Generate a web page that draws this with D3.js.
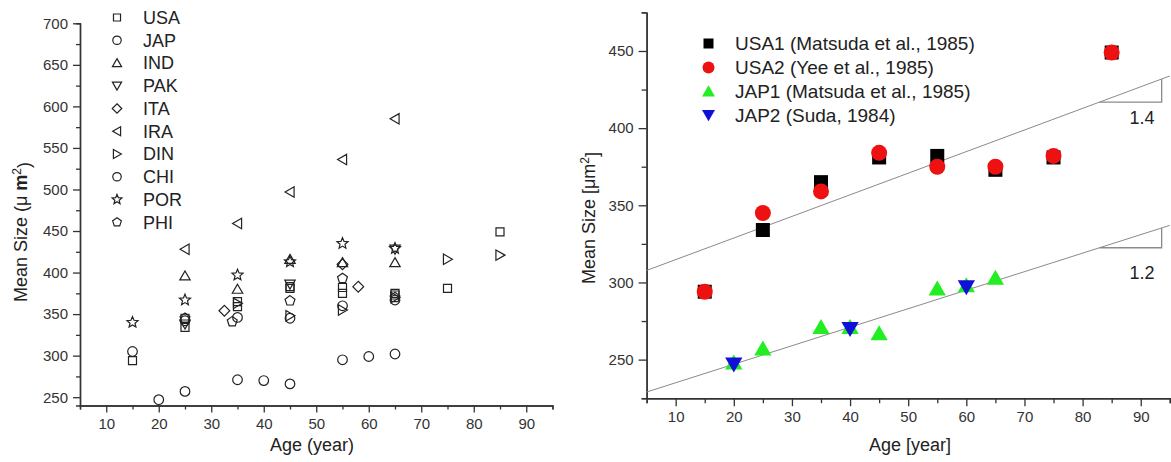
<!DOCTYPE html>
<html>
<head>
<meta charset="utf-8">
<script src="https://cdn.jsdelivr.net/npm/d3@7"></script>
<style>
  html, body { margin: 0; padding: 0; background: #fff; }
  svg { display: block; font-family: "Liberation Sans", Arial, sans-serif; }
</style>
</head>
<body>
<svg id="chart" width="1171" height="462"></svg>
<script>
// ---------------- DATA ----------------
// Left panel: [age, mean size]
const leftSeriesNames = ["USA", "JAP", "IND", "PAK", "ITA", "IRA", "DIN", "CHI", "POR", "PHI"];
const leftSeriesShapes = ["square", "circle", "triUp", "triDown", "diamond", "triLeft", "triRight", "circle", "star", "pentagon"];
const usa = [[15,294],[25,334],[25,345],[35,365],[35,359],[45,381],[45,383],[55,382],[55,375],[65,373],[65,375],[75,381],[85,449]];
const jap = [[20,247],[25,257],[35,271],[40,270],[45,266],[55,295],[60,299],[65,302]];
const ind = [[25,396],[35,380],[45,416],[55,412],[65,412]];
const pak = [[25,338],[45,386],[65,428]];
const ita = [[32.5,354],[55,410],[58,383]];
const ira = [[25,428],[35,459],[45,497],[55,536],[65,585]];
const din = [[35,363],[45,348],[55,355],[65,370],[75,416],[85,421]];
const chi = [[15,305],[25,342],[35,346],[45,345],[55,360],[65,367]];
const por = [[15,340],[25,367],[35,397],[45,413],[55,435],[65,429]];
const phi = [[25,345],[34,341],[45,366],[55,393],[65,370]];
const leftSeriesData = [usa, jap, ind, pak, ita, ira, din, chi, por, phi];
const leftXTicks = [10, 20, 30, 40, 50, 60, 70, 80, 90];
const leftYTicks = [250, 300, 350, 400, 450, 500, 550, 600, 650, 700];

// Right panel
const rightSeriesNames = ["USA1 (Matsuda et al., 1985)", "USA2 (Yee et al., 1985)", "JAP1 (Matsuda et al., 1985)", "JAP2 (Suda, 1984)"];
const rightSeriesShapes = ["square", "circle", "triUp", "triDown"];
const rightSeriesColors = ["#000000", "#ee1111", "#22ee22", "#1010d8"];
const usa1 = [[15,294],[25,334],[35,365],[45,381],[55,382],[65,373],[75,381],[85,449]];
const usa2 = [[15,294],[25,345],[35,359],[45,384],[55,375],[65,375],[75,382],[85,449]];
const jap1 = [[20,248],[25,257],[35,271],[40,271],[45,267],[55,296],[60,298],[65,303]];
const jap2 = [[20,247],[40,270],[60,297]];
const rightSeriesData = [usa1, usa2, jap1, jap2];
const rightXTicks = [10, 20, 30, 40, 50, 60, 70, 80, 90];
const rightYTicks = [250, 300, 350, 400, 450];
// Fitted lines: intercept, slope, label
const fitIntercepts = [300.8, 223];
const fitSlopes = [1.4, 1.2];
const fitLabels = ["1.4", "1.2"];

// ---------------- SHAPES ----------------
function polyDraw(ctx, pts) {
  ctx.moveTo(pts[0][0], pts[0][1]);
  for (let i = 1; i < pts.length; i++) ctx.lineTo(pts[i][0], pts[i][1]);
  ctx.closePath();
}
function regPoly(n, r, startDeg) {
  const pts = [];
  for (let i = 0; i < n; i++) {
    const a = (startDeg + i * 360 / n) * Math.PI / 180;
    pts.push([r * Math.cos(a), r * Math.sin(a)]);
  }
  return pts;
}
const shapeTypes = {
  square:  { draw(ctx, r) { ctx.rect(-r, -r, 2 * r, 2 * r); } },
  circle:  { draw(ctx, r) { ctx.moveTo(r, 0); ctx.arc(0, 0, r, 0, 2 * Math.PI); } },
  triUp:   { draw(ctx, r) { polyDraw(ctx, regPoly(3, r, -90).map(p => [p[0], p[1] + r * 0.18])); } },
  triDown: { draw(ctx, r) { polyDraw(ctx, regPoly(3, r, 90).map(p => [p[0], p[1] - r * 0.18])); } },
  triLeft: { draw(ctx, r) { polyDraw(ctx, regPoly(3, r, 180).map(p => [p[0] + r * 0.18, p[1]])); } },
  triRight:{ draw(ctx, r) { polyDraw(ctx, regPoly(3, r, 0).map(p => [p[0] - r * 0.18, p[1]])); } },
  diamond: { draw(ctx, r) { polyDraw(ctx, [[0, -r], [r, 0], [0, r], [-r, 0]]); } },
  pentagon:{ draw(ctx, r) { polyDraw(ctx, regPoly(5, r, -90)); } },
  star:    { draw(ctx, r) {
      const pts = [];
      for (let i = 0; i < 10; i++) {
        const rr = i % 2 === 0 ? r : r * 0.45;
        const a = (-90 + i * 36) * Math.PI / 180;
        pts.push([rr * Math.cos(a), rr * Math.sin(a)]);
      }
      polyDraw(ctx, pts);
  } }
};
const leftShapeSize = { square: 4, circle: 4.8, triUp: 6, triDown: 6, triLeft: 6, triRight: 6, diamond: 5.4, pentagon: 5.2, star: 5.8 };
function sym(shape, r) { return d3.symbol().type(shapeTypes[shape]).size(r)(); }

const svg = d3.select("#chart");
const axisColor = "#333";
const textColor = "#222";

function styleAxis(g) {
  g.selectAll("path.domain").attr("stroke", axisColor).attr("stroke-width", 1.4);
  g.selectAll(".tick line").attr("stroke", axisColor).attr("stroke-width", 1.3);
  g.selectAll(".tick text").attr("fill", "#333").style("font-size", "15px")
    .style("font-family", "'Liberation Sans', Arial, sans-serif");
}

// ---------------- LEFT PANEL ----------------
{
  const x = d3.scaleLinear().domain([5, 95]).range([80, 552.5]);
  const y = d3.scaleLinear().domain([240, 700]).range([405.5, 23.3]);
  const g = svg.append("g");

  const minorX = d3.range(5, 96, 5).filter(v => v % 10 !== 0);
  const minorY = d3.range(250, 701, 25).filter(v => v % 50 !== 0);

  g.append("g").attr("transform", `translate(0,${y(240)})`)
    .call(d3.axisBottom(x).tickValues(minorX).tickSize(4).tickFormat(""))
    .call(styleAxis);
  g.append("g").attr("transform", `translate(0,${y(240)})`)
    .call(d3.axisBottom(x).tickValues(leftXTicks).tickSize(7).tickSizeOuter(0).tickPadding(6).tickFormat(d3.format("d")))
    .call(styleAxis);
  g.append("g").attr("transform", `translate(${x(5)},0)`)
    .call(d3.axisLeft(y).tickValues(minorY).tickSize(4).tickFormat(""))
    .call(styleAxis);
  g.append("g").attr("transform", `translate(${x(5)},0)`)
    .call(d3.axisLeft(y).tickValues(leftYTicks).tickSize(7).tickSizeOuter(0).tickPadding(5).tickFormat(d3.format("d")))
    .call(styleAxis);

  leftSeriesData.forEach((data, i) => {
    const shape = leftSeriesShapes[i];
    g.append("g").selectAll("path").data(data).join("path")
      .attr("transform", d => `translate(${x(d[0])},${y(d[1])})`)
      .attr("d", sym(shape, leftShapeSize[shape]))
      .attr("fill", "none").attr("stroke", "#222").attr("stroke-width", 1.2);
  });

  // Legend
  const lg = g.append("g");
  leftSeriesNames.forEach((name, i) => {
    const yy = 17.5 + i * 22.75;
    const shape = leftSeriesShapes[i];
    lg.append("path").attr("transform", `translate(117,${yy})`)
      .attr("d", sym(shape, leftShapeSize[shape] * 0.88))
      .attr("fill", "none").attr("stroke", "#222").attr("stroke-width", 1.2);
    lg.append("text").attr("x", 143).attr("y", yy).attr("dy", "0.36em")
      .attr("fill", textColor).style("font-size", "18px").text(name);
  });

  // Titles
  g.append("text").attr("x", 312).attr("y", 451).attr("text-anchor", "middle")
    .attr("fill", textColor).style("font-size", "18px").text("Age (year)");
  const yt = g.append("text").attr("transform", "translate(27,232) rotate(-90)")
    .attr("text-anchor", "middle").attr("fill", textColor).style("font-size", "18px");
  yt.append("tspan").text("Mean Size (\u03bc ");
  yt.append("tspan").style("font-weight", "bold").text("m");
  yt.append("tspan").attr("dy", "-0.5em").style("font-size", "12px").text("2");
  yt.append("tspan").attr("dy", "0.5em").text(")");
}

// ---------------- RIGHT PANEL ----------------
{
  const x = d3.scaleLinear().domain([5, 95]).range([646.6, 1169.8]);
  const y = d3.scaleLinear().domain([225, 475]).range([398.2, 12.4]);
  const g = svg.append("g");

  const minorX = d3.range(5, 96, 5).filter(v => v % 10 !== 0);
  const minorY = d3.range(225, 476, 25).filter(v => v % 50 !== 0);

  g.append("g").attr("transform", `translate(0,${y(225)})`)
    .call(d3.axisBottom(x).tickValues(minorX).tickSize(5).tickFormat(""))
    .call(styleAxis);
  g.append("g").attr("transform", `translate(0,${y(225)})`)
    .call(d3.axisBottom(x).tickValues(rightXTicks).tickSize(8).tickSizeOuter(0).tickPadding(5).tickFormat(d3.format("d")))
    .call(styleAxis);
  g.append("g").attr("transform", `translate(${x(5)},0)`)
    .call(d3.axisLeft(y).tickValues(minorY).tickSize(5).tickFormat(""))
    .call(styleAxis);
  g.append("g").attr("transform", `translate(${x(5)},0)`)
    .call(d3.axisLeft(y).tickValues(rightYTicks).tickSize(8).tickSizeOuter(0).tickPadding(5).tickFormat(d3.format("d")))
    .call(styleAxis);

  // Fit lines
  const labelOffsets = [16, 25];
  fitIntercepts.forEach((b, i) => {
    const m = fitSlopes[i];
    const f = v => b + m * v;
    g.append("path")
      .attr("d", d3.line().x(d => x(d)).y(d => y(f(d)))([5, 95]))
      .attr("fill", "none").attr("stroke", "#8a8a8a").attr("stroke-width", 1);
    // slope triangle
    const x0 = 82.9, x1 = 93.6;
    g.append("path")
      .attr("d", d3.line().x(d => x(d[0])).y(d => y(d[1]))([[x0, f(x0)], [x1, f(x0)], [x1, f(x1)]]))
      .attr("fill", "none").attr("stroke", "#8a8a8a").attr("stroke-width", 1.3);
    g.append("text").attr("x", x(90.2)).attr("y", y(f(x0)) + labelOffsets[i]).attr("dy", "0.35em")
      .attr("text-anchor", "middle").attr("fill", textColor).style("font-size", "18px").text(fitLabels[i]);
  });

  const rSize = { square: 7, circle: 8, triUp: 10, triDown: 10 };
  rightSeriesData.forEach((data, i) => {
    const shape = rightSeriesShapes[i];
    g.append("g").selectAll("path").data(data).join("path")
      .attr("transform", d => `translate(${x(d[0])},${y(d[1])})`)
      .attr("d", sym(shape, rSize[shape]))
      .attr("fill", rightSeriesColors[i]).attr("stroke", "none");
  });

  // Legend
  const lgSize = { square: 5, circle: 6, triUp: 7.5, triDown: 7.5 };
  rightSeriesNames.forEach((name, i) => {
    const yy = 43.5 + i * 23.9;
    const shape = rightSeriesShapes[i];
    g.append("path").attr("transform", `translate(708.5,${yy})`)
      .attr("d", sym(shape, lgSize[shape]))
      .attr("fill", rightSeriesColors[i]);
    g.append("text").attr("x", 735).attr("y", yy).attr("dy", "0.36em")
      .attr("fill", textColor).style("font-size", "19px").text(name);
  });

  g.append("text").attr("x", 910).attr("y", 451).attr("text-anchor", "middle")
    .attr("fill", textColor).style("font-size", "18px").text("Age [year]");
  const yt = g.append("text").attr("transform", "translate(595,218) rotate(-90)")
    .attr("text-anchor", "middle").attr("fill", textColor).style("font-size", "18px");
  yt.append("tspan").text("Mean Size [\u03bcm");
  yt.append("tspan").attr("dy", "-0.5em").style("font-size", "12px").text("2");
  yt.append("tspan").attr("dy", "0.5em").text("]");
}
</script>
</body>
</html>
